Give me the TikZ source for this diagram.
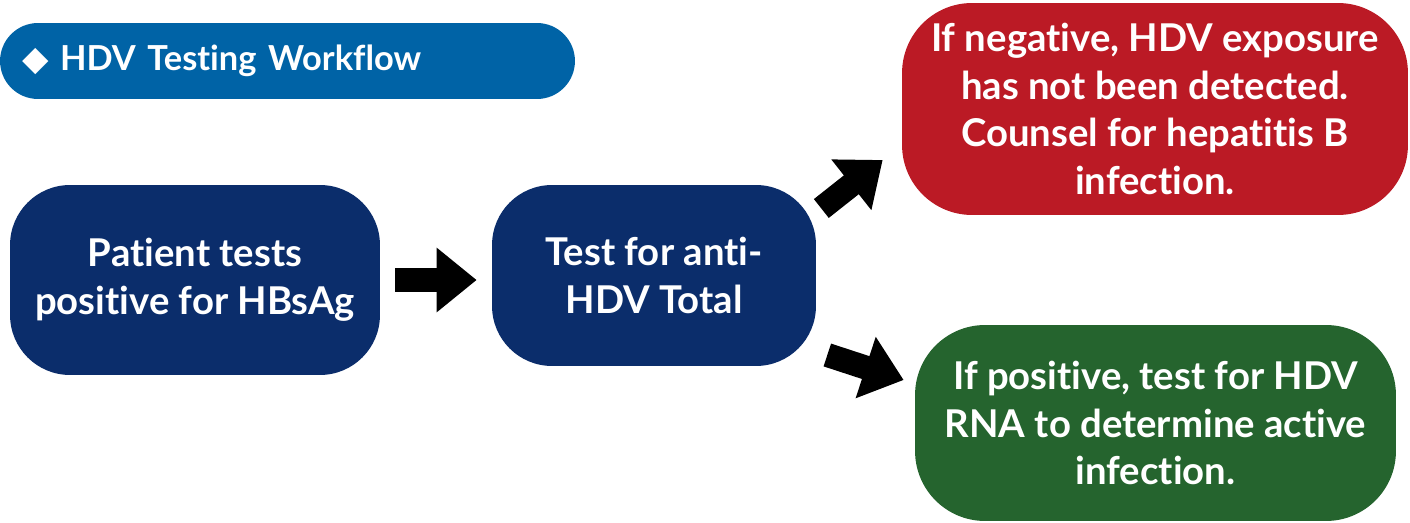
\documentclass[tikz,border=0pt]{standalone}
\usepackage{fontspec}
\setmainfont{Lato}[Ligatures=NoCommon]
\newfontfamily\symfont{DejaVu Sans}
\usepackage{tikz}
\usetikzlibrary{arrows.meta,positioning,calc}
\usepackage{xcolor}
\definecolor{titleblue}{HTML}{0063A6}
\definecolor{hdvnavy}{HTML}{0B2D6B}
\definecolor{hdvred}{HTML}{BB1A25}
\definecolor{hdvgreen}{HTML}{25642E}

\begin{document}
\begin{tikzpicture}[x=0.02cm, y=-0.02cm]
    \tikzstyle{stage} = [rectangle, fill=hdvnavy, text=white, align=center, inner sep=0pt, rounded corners=1.2cm, font=\bfseries\fontsize{21.8}{27.2}\selectfont]
    \tikzstyle{fatarrow} = [line width=0.48cm, -{Triangle[length=0.8cm, width=1.24cm]}, black]

    \useasboundingbox (0,0) rectangle (1410,523);

    % title bar
    \node[rectangle, fill=titleblue, text=white, rounded corners=0.76cm, minimum width=11.5cm, minimum height=1.52cm, text width=10.62cm, inner xsep=0.44cm, inner ysep=0pt, align=left, font=\bfseries\fontsize{19.6}{24}\selectfont] (title) at (287.5,61) {{\symfont ◆} HDV Testing Workflow};

    \node[stage, minimum width=7.4cm, minimum height=3.8cm] (hbsag) at (195,280) {Patient tests\\positive for HBsAg};
    \node[stage, minimum width=6.48cm, minimum height=3.62cm] (antihdv) at (654,275.5) {Test for anti-\\HDV Total};
    \node[stage, fill=hdvred, minimum width=10.12cm, minimum height=4.24cm, rounded corners=1.4cm] (neg) at (1155,109) {If negative, HDV exposure\\has not been detected.\\Counsel for hepatitis B\\infection.};
    \node[stage, fill=hdvgreen, minimum width=9.62cm, minimum height=3.92cm, rounded corners=1.4cm] (pos) at (1155.5,423) {If positive, test for HDV\\RNA to determine active\\infection.};

    \draw[fatarrow, shorten <=0.3cm, shorten >=0.3cm] (hbsag.east) -- (hbsag.east -| antihdv.west);
    \draw[fatarrow] ([shift={(5,-67)}]antihdv.east) -- ([shift={(-19,51)}]neg.west);
    \draw[fatarrow] ([shift={(11,79.5)}]antihdv.east) -- ([shift={(-11,-43)}]pos.west);
\end{tikzpicture}
\end{document}
